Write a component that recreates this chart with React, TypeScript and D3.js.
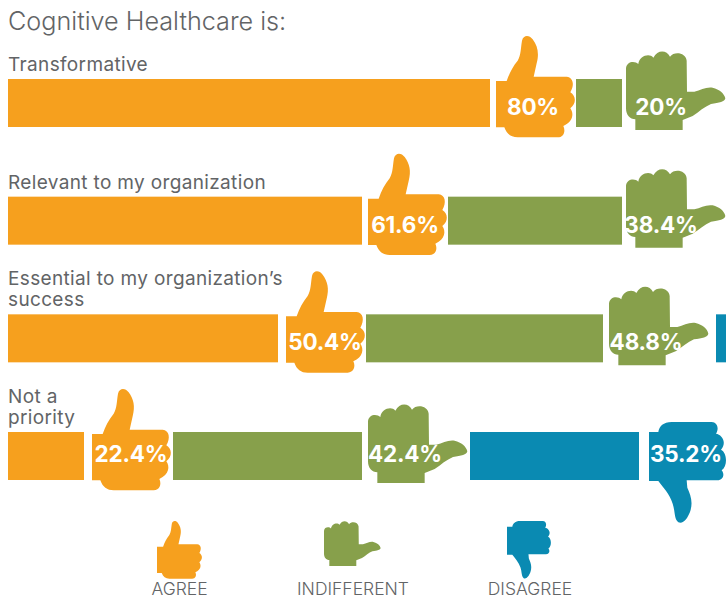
import React from "react";
import * as d3 from "d3";

const titleText = "Cognitive Healthcare is:";
const categories = [["Transformative"], ["Relevant to my organization"], ["Essential to my organization’s", "success"], ["Not a", "priority"]];
const agree = [80, 61.6, 50.4, 22.4];
const indifferent = [20, 38.4, 48.8, 42.4];
const disagree = [0, 0, 0.8, 35.2];
const legendItems = ["AGREE", "INDIFFERENT", "DISAGREE"];

const ORANGE = "#f6a01e";
const GREEN = "#87a04b";
const BLUE = "#0a8ab2";
const GRAY = "#626466";
const FONT = "Inter, 'Open Sans', sans-serif";

// Icon outlines, drawn at 3x in their own coordinates
const thumbUp = "M50 322 L50 183 L82 183 C90 160 100 140 115 122 C125 105 124 85 128 62 C132 44 150 44 160 58 C175 78 180 100 172 130 L163 170 L262 170 C282 172 286 195 273 217 C290 228 292 250 273 265 C284 280 282 305 252 318 C260 335 252 352 235 352 L115 352 C95 352 82 342 75 322 Z";
const thumbSide = "M468 330 L468 298 C452 298 440 285 440 265 L440 145 C442 122 468 122 477 132 C480 108 510 98 522 113 C535 88 562 90 572 110 C585 92 620 98 622 122 L623 215 L645 215 C665 210 680 200 700 203 C720 208 735 220 738 235 C736 246 720 248 695 252 C675 260 660 275 640 288 L610 300 L610 330 Z";
const thumbDown = "M57 242 L57 95 L85 95 C88 78 100 65 125 65 L245 65 C262 65 268 85 258 100 C275 102 292 125 273 148 C290 155 295 195 275 210 C285 222 280 240 262 240 L170 240 L172 262 C182 285 190 305 180 335 C172 355 160 372 145 366 C132 355 136 335 128 310 C118 280 100 262 85 242 Z";

const barEnd = d3.scaleLinear().domain([22.4, 50.4, 61.6, 80]).range([84, 278, 362, 490]);
const midStart = d3.scaleLinear().domain([22.4, 50.4, 61.6, 80]).range([173, 366, 448, 576]);
const midEnd = d3.scaleLinear().domain([64.8, 99.2, 100]).range([362, 603, 622]);
const lastStart = d3.scaleLinear().domain([64.8, 99.2]).range([470, 716]);
const lastWidth = d3.scaleLinear().domain([0.8, 35.2]).range([12, 169]);
const rowY = d3.scalePoint<number>().domain(d3.range(4)).range([79, 432]);

const BAR_H = 48;

function Label({ x, y, t }: { x: number; y: number; t: string }) {
  return <text x={x} y={y} textAnchor="middle" fill="#fff" fontFamily={FONT} fontWeight={700} fontSize={22.5} letterSpacing={-0.2}>{t}</text>;
}

export default function App() {
  return (
    <svg width={726} height={599} style={{ position: "absolute", left: 0, top: 0, background: "#fff" }}>
      <text x={8} y={30} fill={GRAY} fontFamily={FONT} fontWeight={300} fontSize={25.2}>{titleText}</text>
      {categories.map((lines, i) => {
        const y = rowY(i)!;
        const a = agree[i], m = indifferent[i], d = disagree[i];
        const ae = barEnd(a);
        const ms = midStart(a);
        const me = midEnd(a + m);
        const lineH = 21;
        const textDy = i === 3 ? 30 : 36;
        return (
          <g key={i}>
            {lines.map((l, j) => (
              <text key={j} x={8} y={y - 8 - (lines.length - 1 - j) * lineH} fill={GRAY} fontFamily={FONT} fontWeight={400} fontSize={19} letterSpacing={0.35}>{l}</text>
            ))}
            <rect x={8} y={y} width={ae - 8} height={BAR_H} fill={ORANGE} />
            <path d={thumbUp} fill={ORANGE} transform={`translate(${ae + 6 + (i >= 2 ? 2 : 0) - 50 / 3},${y - 43 - 16}) scale(${1 / 3})`} />
            <Label x={ae + (i >= 2 ? 47 : 43)} y={y + textDy} t={`${a}%`} />
            <rect x={ms} y={y} width={me - ms} height={BAR_H} fill={GREEN} />
            <path d={thumbSide} fill={GREEN} transform={`translate(${me + (me > 610 ? 4 : 6) - 440 / 3},${y - 28 - 31}) scale(${1 / 3})`} />
            <Label x={me + (me > 610 ? 39 : 43)} y={y + textDy} t={`${m}%`} />
            {d > 0 && (
              <g>
                <rect x={lastStart(a + m)} y={y} width={lastWidth(d)} height={BAR_H} fill={BLUE} />
                {d > 1 && (
                  <g>
                    <path d={thumbDown} fill={BLUE} transform={`translate(${lastStart(a + m) + lastWidth(d) + 10 - 57 / 3},${y - 10 - 65 / 3}) scale(${1 / 3})`} />
                    <Label x={lastStart(a + m) + lastWidth(d) + 47} y={y + textDy} t={`${d}%`} />
                  </g>
                )}
              </g>
            )}
          </g>
        );
      })}
      <path d={thumbUp} fill={ORANGE} transform={`translate(${157 - 50 * 0.19},${521 - 48 * 0.19}) scale(0.19)`} />
      <path d={thumbSide} fill={GREEN} transform={`translate(${324 - 440 * 0.19},${521 - 93 * 0.19}) scale(0.19)`} />
      <path d={thumbDown} fill={BLUE} transform={`translate(${507 - 57 * 0.19},${521 - 65 * 0.19}) scale(0.19)`} />
      {legendItems.map((t, i) => (
        <text key={t} x={[179.5, 353, 530][i]} y={594.5} textAnchor="middle" fill={GRAY} fontFamily={FONT} fontWeight={300} fontSize={17.5}>{t}</text>
      ))}
    </svg>
  );
}
